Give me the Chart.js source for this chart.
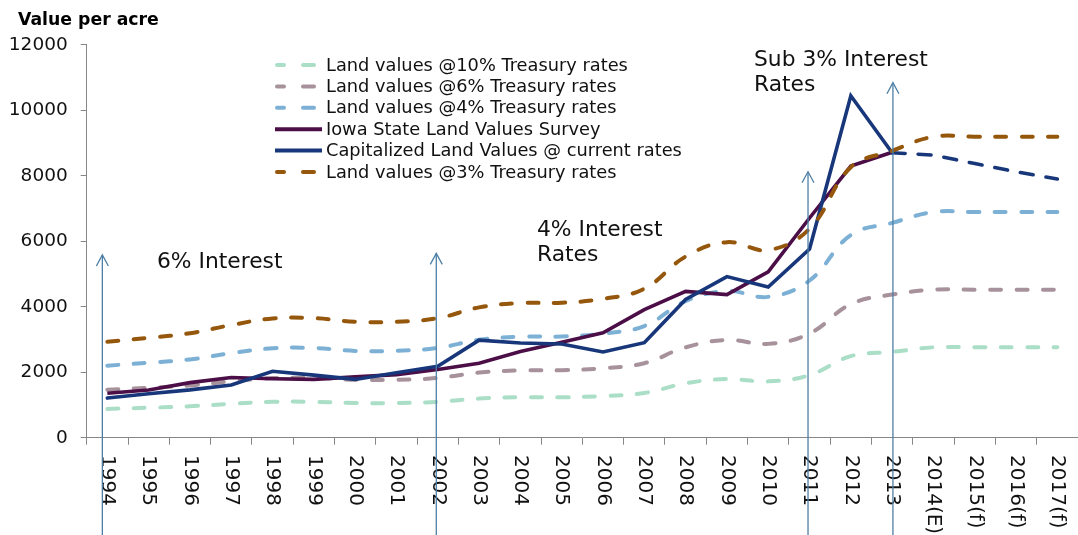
<!DOCTYPE html>
<html><head><meta charset="utf-8">
<script src="https://cdn.jsdelivr.net/npm/chart.js@4.4.1/dist/chart.umd.min.js"></script>
<style>html,body{margin:0;padding:0;background:#fff;overflow:hidden}#wrap{width:1078px;height:535px;position:relative}</style>
</head><body><div id="wrap"><canvas id="c" width="1078" height="535"></canvas></div>
<script>
const categories = ['1994','1995','1996','1997','1998','1999','2000','2001','2002','2003','2004','2005','2006','2007','2008','2009','2010','2011','2012','2013','2014(E)','2015(f)','2016(f)','2017(f)'];
const yTicks = [0, 2000, 4000, 6000, 8000, 10000, 12000];

const landValues10 = [880, 915, 960, 1035, 1095, 1095, 1060, 1060, 1095, 1195, 1235, 1235, 1270, 1365, 1660, 1790, 1720, 1910, 2490, 2620, 2760, 2760, 2760, 2760];
const landValues6  = [1465, 1525, 1595, 1720, 1820, 1825, 1770, 1770, 1825, 1990, 2055, 2060, 2120, 2275, 2760, 2985, 2865, 3180, 4080, 4370, 4520, 4520, 4520, 4520];
const landValues4  = [2200, 2290, 2390, 2580, 2730, 2740, 2650, 2655, 2740, 2990, 3085, 3090, 3180, 3410, 4170, 4480, 4300, 4800, 6190, 6560, 6890, 6890, 6890, 6890];
const iowaSurvey   = [1356, 1455, 1682, 1837, 1801, 1781, 1857, 1926, 2083, 2275, 2629, 2914, 3204, 3908, 4468, 4371, 5064, 6708, 8296, 8716, null, null, null, null];
const capitalized  = [1210, 1340, 1460, 1610, 2030, 1910, 1780, 1985, 2180, 2980, 2890, 2860, 2620, 2900, 4220, 4920, 4600, 5760, 10440, 8700, 8630, 8370, 8120, 7900];
const landValues3  = [2930, 3050, 3190, 3440, 3640, 3650, 3540, 3540, 3650, 3980, 4110, 4120, 4240, 4550, 5530, 5970, 5730, 6380, 8260, 8760, 9190, 9190, 9190, 9190];

const seriesLabels = ['Land values @10% Treasury rates','Land values @6% Treasury rates','Land values @4% Treasury rates','Iowa State Land Values Survey','Capitalized Land Values @ current rates','Land values @3% Treasury rates'];

const arrowCategories = ['1994','2002','2011','2013'];
const arrowTipValues = [5580, 5630, 8120, 10840];

const notes = [
  {lines:['6% Interest'], x:157, y:262},
  {lines:['4% Interest','Rates'], x:537, y:230},
  {lines:['Sub 3% Interest','Rates'], x:754, y:60}
];

const FONT = '"DejaVu Sans", Verdana, sans-serif';
const AXIS = '#878787';
const DASH = [11, 15.5];

function dashed(label, data, color, order){
  return {label, data, borderColor: color, backgroundColor: color, borderWidth: 4, borderDash: DASH,
    borderCapStyle: 'round', tension: 0.4, pointRadius: 0, order, dashedLegend: true};
}

const datasets = [
  dashed(seriesLabels[0], landValues10, '#aadec7', 5),
  dashed(seriesLabels[1], landValues6, '#a7929c', 4),
  dashed(seriesLabels[2], landValues4, '#7db0d5', 3),
  {label: seriesLabels[3], data: iowaSurvey, borderColor: '#4b0e47', backgroundColor: '#4b0e47', borderWidth: 3.6, tension: 0, pointRadius: 0, order: 2, borderJoinStyle:'miter'},
  {label: seriesLabels[4], data: capitalized, borderColor: '#17377a', backgroundColor: '#17377a', borderWidth: 3.6, tension: 0, pointRadius: 0, order: 1, borderCapStyle:'round',
    segment: {borderDash: ctx => ctx.p0DataIndex >= 19 ? [13, 13] : []}},
  dashed(seriesLabels[5], landValues3, '#95570b', 0)
];

const decor = {
  id: 'decor',
  afterDraw(chart){
    const ctx = chart.ctx, xs = chart.scales.x, ys = chart.scales.y;
    ctx.save();
    // title
    ctx.fillStyle = '#000';
    ctx.font = 'bold 17.3px ' + FONT;
    ctx.textAlign = 'left'; ctx.textBaseline = 'alphabetic';
    ctx.fillText('Value per acre', 18, 25);
    // x labels rotated clockwise
    ctx.font = '20px ' + FONT;
    ctx.fillStyle = '#111';
    categories.forEach((c, i) => {
      const x = xs.getPixelForValue(i);
      ctx.save();
      ctx.translate(x, 455);
      ctx.rotate(Math.PI / 2);
      ctx.textAlign = 'left'; ctx.textBaseline = 'middle';
      ctx.fillText(c, 0, 0);
      ctx.restore();
    });
    // legend
    const lx = 275, ly0 = 65, lstep = 21.4;
    ctx.font = '17.8px ' + FONT;
    ctx.textBaseline = 'middle';
    datasets.forEach((d, i) => {
      const y = ly0 + i * lstep;
      ctx.strokeStyle = d.borderColor;
      ctx.lineWidth = 4;
      ctx.setLineDash([]);
      if (d.dashedLegend) {
        ctx.lineCap = 'round';
        ctx.beginPath(); ctx.moveTo(lx + 2, y); ctx.lineTo(lx + 9, y); ctx.stroke();
        ctx.beginPath(); ctx.moveTo(lx + 28, y); ctx.lineTo(lx + 39, y); ctx.stroke();
      } else {
        ctx.lineCap = 'butt';
        ctx.beginPath(); ctx.moveTo(lx, y); ctx.lineTo(lx + 47, y); ctx.stroke();
      }
      ctx.fillStyle = '#111';
      ctx.fillText(d.label, 326, y + 1);
    });
    // notes
    ctx.font = '21.8px ' + FONT;
    ctx.fillStyle = '#111';
    notes.forEach(n => n.lines.forEach((t, k) => ctx.fillText(t, n.x, n.y + k * 25)));
    // arrows
    const offs = [-5, -1.5, -1.5, 0.8];
    ctx.strokeStyle = '#4d7fa6';
    ctx.lineWidth = 1.3;
    ctx.lineCap = 'butt';
    arrowCategories.forEach((c, i) => {
      const x = xs.getPixelForValue(categories.indexOf(c)) + offs[i];
      const yTip = ys.getPixelForValue(arrowTipValues[i]);
      ctx.beginPath(); ctx.moveTo(x, 535); ctx.lineTo(x, yTip); ctx.stroke();
      ctx.beginPath(); ctx.moveTo(x - 6, yTip + 11); ctx.lineTo(x, yTip); ctx.lineTo(x + 6, yTip + 11); ctx.stroke();
    });
    ctx.restore();
  }
};

new Chart(document.getElementById('c'), {
  type: 'line',
  data: {labels: categories, datasets},
  options: {
    responsive: false, animation: false, devicePixelRatio: 1,
    layout: {padding: {top: 44.7, left: 0, right: 0, bottom: 0}},
    plugins: {legend: {display: false}, tooltip: {enabled: false}},
    scales: {
      x: {
        type: 'category', offset: true,
        grid: {offset: true, drawOnChartArea: false, drawTicks: true, tickLength: 7, color: AXIS},
        border: {display: true, color: AXIS, width: 1},
        ticks: {display: false},
        afterFit(s){ s.height = 97.3; }
      },
      y: {
        min: 0, max: 12000,
        afterBuildTicks(s){ s.ticks = yTicks.map(v => ({value: v})); },
        grid: {drawOnChartArea: false, drawTicks: true, tickLength: 6, color: AXIS},
        border: {display: true, color: AXIS, width: 1},
        ticks: {padding: 13, color: '#111', font: {family: FONT, size: 18.5}, callback: v => String(v)},
        afterFit(s){ s.width = 86.7; }
      }
    }
  },
  plugins: [decor]
});
</script>
</body></html>
